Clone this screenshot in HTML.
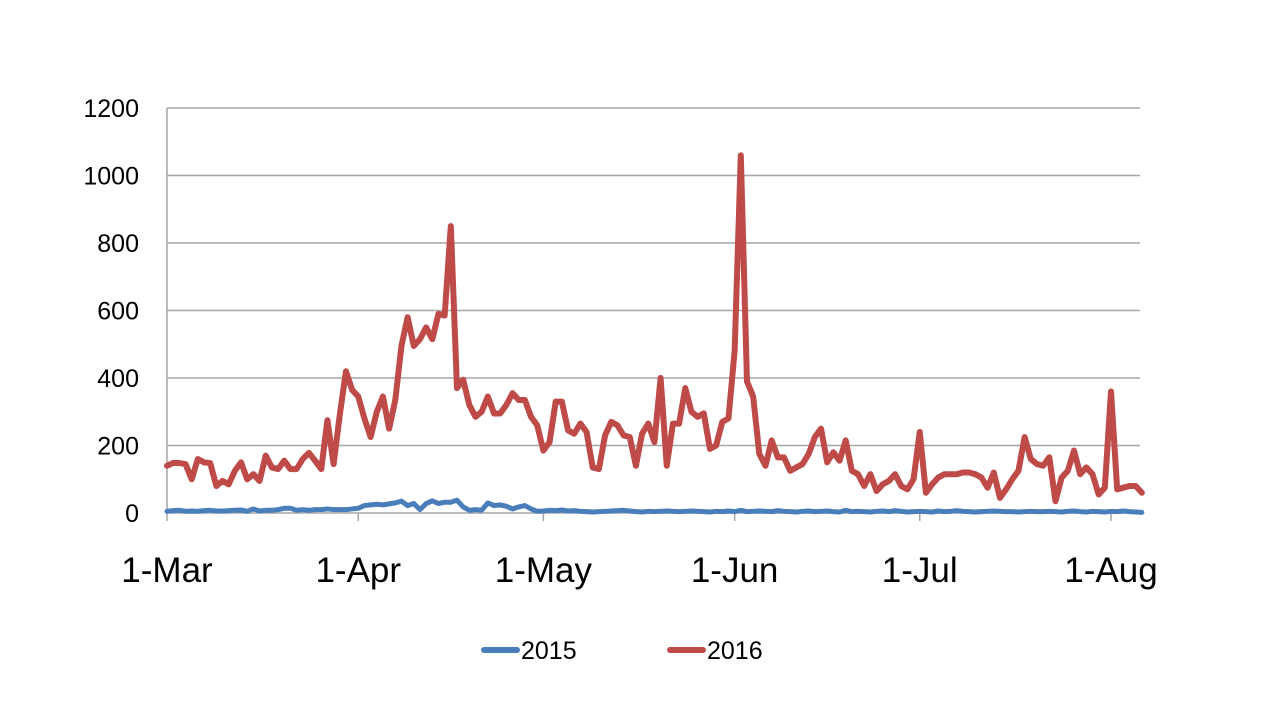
<!DOCTYPE html>
<html><head><meta charset="utf-8"><style>
body{margin:0;background:#fff;width:1280px;height:720px;overflow:hidden;font-family:"Liberation Sans",sans-serif}
</style></head><body>
<svg id="chart" width="1280" height="720" xmlns="http://www.w3.org/2000/svg"></svg>
<script>
const yTicks=[0,200,400,600,800,1000,1200];
const monthLabels=["1-Mar","1-Apr","1-May","1-Jun","1-Jul","1-Aug"];
const monthDays=[0,31,61,92,122,153];
const s2016=[140,148,148,145,100,160,150,148,80,95,85,125,150,100,115,95,170,135,130,155,130,130,160,178,155,130,275,145,290,420,365,345,280,225,300,345,250,335,495,580,495,515,550,515,590,585,850,370,395,320,285,300,345,295,295,320,355,335,335,285,260,185,210,330,330,245,235,265,240,135,130,230,270,260,230,225,140,235,265,210,400,140,265,265,370,300,285,295,190,200,270,280,480,1060,390,345,175,140,215,165,165,125,135,145,175,225,250,150,180,155,215,125,115,80,115,65,85,95,115,80,70,100,240,60,85,105,115,115,115,120,120,115,105,75,120,45,70,100,125,225,160,145,140,165,35,105,125,185,115,135,115,55,75,360,70,75,80,80,60];
const s2015=[5,7,8,5,6,5,7,8,6,6,7,8,9,5,12,6,8,8,10,14,14,8,10,8,10,10,12,10,10,10,12,14,22,24,26,24,27,30,35,22,28,10,28,36,28,32,32,38,18,8,10,8,30,22,24,20,12,18,22,12,5,6,8,7,9,6,7,5,4,3,4,5,6,7,8,6,4,3,5,4,5,6,5,4,5,6,5,4,3,5,4,6,4,8,4,5,6,5,4,7,5,4,3,5,6,4,5,6,4,3,8,4,5,4,3,5,6,4,7,5,3,4,5,4,3,6,4,5,7,5,4,3,4,5,6,5,4,4,3,4,5,4,4,5,4,3,5,6,4,3,5,4,3,5,4,6,4,3,2];
const X0=167,X1=1111,Y0=513,Y1=108;
const xs=d=>X0+d*(X1-X0)/153;
const ys=v=>Y0-v*(Y0-Y1)/1200;
const svg=document.getElementById('chart');
const NS="http://www.w3.org/2000/svg";
function mk(t,a){const e=document.createElementNS(NS,t);for(const k in a)e.setAttribute(k,a[k]);svg.appendChild(e);return e;}
yTicks.forEach(v=>{
  if(v>0){const g=mk('line',{x1:X0,x2:1140,y1:ys(v),y2:ys(v),stroke:'#a6a6a6','stroke-width':1.5});
  
  }
  const t=mk('text',{x:139,y:ys(v)+9,'text-anchor':'end','font-size':25,fill:'#000'});
  t.textContent=v;
  
  
});
const ya=mk('line',{x1:X0,x2:X0,y1:Y1,y2:Y0,stroke:'#a6a6a6','stroke-width':1.5});


const xa=mk('line',{x1:X0,x2:1140,y1:Y0,y2:Y0,stroke:'#a6a6a6','stroke-width':1.5});


monthDays.forEach((d,i)=>{
  const tk=mk('line',{x1:xs(d),x2:xs(d),y1:Y0,y2:Y0+8,stroke:'#a6a6a6','stroke-width':1.5});
  
  
  const t=mk('text',{x:xs(d),y:582,'text-anchor':'middle','font-size':35,fill:'#000'});
  t.textContent=monthLabels[i];
  
  
});
function line(arr,color,w,name){
  const p=mk('polyline',{points:arr.map((v,i)=>xs(i)+','+ys(v)).join(' '),fill:'none',stroke:color,'stroke-width':w,'stroke-linejoin':'round','stroke-linecap':'round'});
  
  
}
line(s2015,'#4a7ebb',5,'series-2015');
line(s2016,'#be4b48',6,'series-2016');
[['2015','#4a7ebb',484],['2016','#be4b48',670]].forEach(([lab,c,x])=>{
  const l=mk('line',{x1:x,x2:x+33,y1:650,y2:650,stroke:c,'stroke-width':6,'stroke-linecap':'round'});
  
  
  const t=mk('text',{x:x+37,y:659,'font-size':25,fill:'#000'});
  t.textContent=lab;
  
  
});
</script>
</body></html>
